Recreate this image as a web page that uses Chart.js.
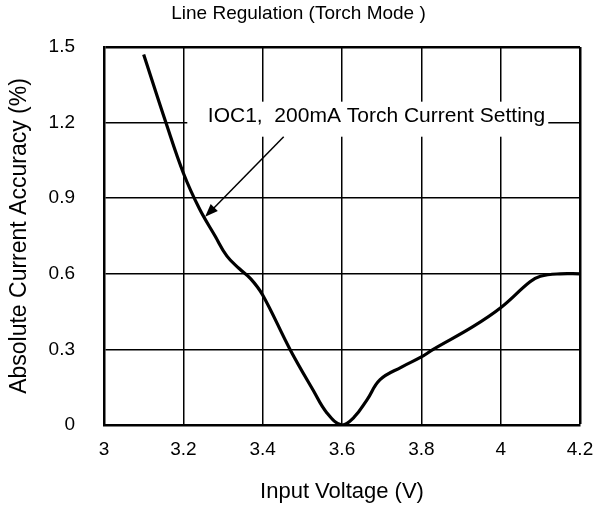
<!DOCTYPE html>
<html>
<head>
<meta charset="utf-8">
<script src="https://cdn.jsdelivr.net/npm/chart.js@4.4.1/dist/chart.umd.min.js"></script>
<style>
  html, body { margin: 0; padding: 0; background: #fff; }
  #wrap { width: 597px; height: 510px; }
</style>
</head>
<body>
<div id="wrap"><canvas id="myChart"></canvas></div>
<script>
// data
var voltage  = [3.10, 3.156, 3.20, 3.24, 3.28, 3.31, 3.34, 3.37, 3.40, 3.469, 3.527, 3.562, 3.60, 3.63, 3.663, 3.696, 3.75, 3.80, 3.83, 3.93, 4.00, 4.074, 4.10, 4.15, 4.20];
var accuracy = [1.47, 1.20, 1.00, 0.86, 0.75, 0.67, 0.622, 0.58, 0.516, 0.30, 0.139, 0.048, 0.0, 0.03, 0.10, 0.18, 0.23, 0.27, 0.30, 0.39, 0.465, 0.568, 0.59, 0.60, 0.60];
var xTickLabels = ['3', '3.2', '3.4', '3.6', '3.8', '4', '4.2'];
var yTickLabels = ['0', '0.3', '0.6', '0.9', '1.2', '1.5'];
var noteText = 'IOC1,  200mA Torch Current Setting';

var FONT = "'Liberation Sans', Arial, sans-serif";

// annotation: white label box + arrow, placed in data units
var noteBox = { x1: 3.21, x2: 4.12, y1: 1.144, y2: 1.283 };
var notePos = { x: 3.687, y: 1.224 };
var arrowFrom = { x: 3.453, y: 1.144 };
var arrowTo = { x: 3.255, y: 0.826 };

var points = [];
voltage.forEach(function (v, i) {
  points.push({ x: v, y: accuracy[i] });
});

var notePlugin = {
  id: 'note',
  beforeDatasetsDraw: function (chart) {
    var ctx = chart.ctx;
    var x = chart.scales.x, y = chart.scales.y;
    ctx.save();
    ctx.fillStyle = '#fff';
    var bx1 = x.getPixelForValue(noteBox.x1), bx2 = x.getPixelForValue(noteBox.x2);
    var by1 = y.getPixelForValue(noteBox.y2), by2 = y.getPixelForValue(noteBox.y1);
    ctx.fillRect(bx1, by1, bx2 - bx1, by2 - by1);

    ctx.fillStyle = '#000';
    ctx.font = '21px ' + FONT;
    ctx.textAlign = 'center';
    ctx.textBaseline = 'middle';
    ctx.fillText(noteText, x.getPixelForValue(notePos.x), y.getPixelForValue(notePos.y));

    // arrow
    var ax = x.getPixelForValue(arrowFrom.x), ay = y.getPixelForValue(arrowFrom.y);
    var tx = x.getPixelForValue(arrowTo.x), ty = y.getPixelForValue(arrowTo.y);
    var ang = Math.atan2(ty - ay, tx - ax);
    var headLen = 13, headW = 5;
    ctx.strokeStyle = '#000';
    ctx.lineWidth = 1.5;
    ctx.beginPath();
    ctx.moveTo(ax, ay);
    ctx.lineTo(tx - Math.cos(ang) * headLen * 0.8, ty - Math.sin(ang) * headLen * 0.8);
    ctx.stroke();
    ctx.beginPath();
    ctx.moveTo(tx, ty);
    ctx.lineTo(tx - Math.cos(ang) * headLen - Math.sin(ang) * headW, ty - Math.sin(ang) * headLen + Math.cos(ang) * headW);
    ctx.lineTo(tx - Math.cos(ang) * headLen + Math.sin(ang) * headW, ty - Math.sin(ang) * headLen - Math.cos(ang) * headW);
    ctx.closePath();
    ctx.fill();
    ctx.restore();
  }
};

var ctx = document.getElementById('myChart');
new Chart(ctx, {
  type: 'line',
  data: {
    datasets: [{
      data: points,
      borderColor: '#000',
      borderWidth: 3.2,
      pointRadius: 0,
      fill: false,
      tension: 0.4
    }]
  },
  options: {
    responsive: true,
    maintainAspectRatio: false,
    animation: false,
    layout: { padding: 0 },
    plugins: {
      legend: { display: false },
      tooltip: { enabled: false },
      title: {
        display: true,
        text: 'Line Regulation (Torch Mode )',
        color: '#000',
        font: { family: FONT, size: 19, weight: 'normal' },
        padding: { top: 2.6, bottom: 21.6 }
      }
    },
    scales: {
      x: {
        type: 'linear',
        min: 3,
        max: 4.2,
        afterFit: function (s) {
          s.height = 85;
          s.paddingLeft = 0;
          s.paddingRight = 17;
        },
        ticks: {
          stepSize: 0.2,
          padding: 13.6,
          maxRotation: 0,
          color: '#000',
          font: { family: FONT, size: 19 },
          callback: function (v, i) { return xTickLabels[i]; }
        },
        grid: {
          color: '#000',
          lineWidth: function (c) { return c.tick && c.tick.value >= 4.19 ? 2.5 : 1.5; },
          drawTicks: false
        },
        border: { color: '#000', width: 2.5 },
        title: {
          display: true,
          text: 'Input Voltage (V)',
          color: '#000',
          font: { family: FONT, size: 22 },
          padding: { top: 0, bottom: 4.8 }
        }
      },
      y: {
        min: 0,
        max: 1.5,
        afterFit: function (s) { s.width = 104; },
        ticks: {
          stepSize: 0.3,
          padding: 29,
          color: '#000',
          font: { family: FONT, size: 19 },
          callback: function (v, i) { return yTickLabels[i]; }
        },
        grid: {
          color: '#000',
          lineWidth: function (c) { return c.tick && c.tick.value >= 1.49 ? 2.5 : 1.5; },
          drawTicks: false
        },
        border: { color: '#000', width: 2.5 },
        title: {
          display: true,
          text: 'Absolute Current Accuracy (%)',
          color: '#000',
          font: { family: FONT, size: 23 },
          padding: { top: 6.2, bottom: 0 }
        }
      }
    }
  },
  plugins: [notePlugin]
});
</script>
</body>
</html>
